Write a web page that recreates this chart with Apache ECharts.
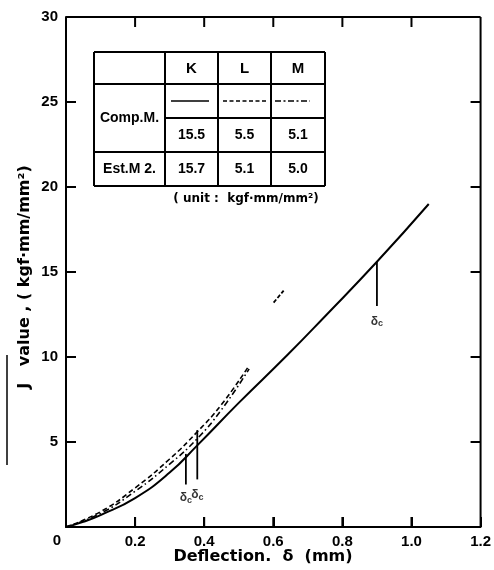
<!DOCTYPE html>
<html><head><meta charset="utf-8">
<script src="https://cdn.jsdelivr.net/npm/echarts@6/dist/echarts.min.js"></script>
<style>html,body{margin:0;padding:0;background:#fff}#c{width:494px;height:570px}</style>
</head><body><div id="c"></div>
<script>
// ---- data ----
var xTicks = [0, 0.2, 0.4, 0.6, 0.8, 1.0, 1.2];
var yTicks = [0, 5, 10, 15, 20, 25, 30];
var curveK = [[0,0],[0.05,0.3],[0.1,0.7],[0.2,1.7],[0.3,3.2],[0.38,4.8],[0.5,7.3],[0.64,10.1],[0.75,12.4],[0.9,15.6],[1.05,19.0]];
var curveL = [[0,0],[0.1,0.9],[0.2,2.3],[0.3,4.0],[0.38,5.6],[0.45,7.2],[0.53,9.5]];
var curveM = [[0,0],[0.1,0.8],[0.2,2.1],[0.3,3.7],[0.38,5.2],[0.45,6.9],[0.53,9.3]];
var fragment = [[0.601,13.2],[0.63,13.9]];
var markerX = [0.9, 0.38, 0.347];
var markerTop = [15.6, 5.7, 4.3];
var markerBottom = [13.0, 2.8, 2.5];
var markerLabelY = [12.1, 1.9, 1.7];
var tableCols = ['K', 'L', 'M'];
var rowLabels = ['Comp.M.', 'Est.M 2.'];
var compValues = ['15.5', '5.5', '5.1'];
var estValues = ['15.7', '5.1', '5.0'];
var unitText = '( unit :  kgf·mm/mm²)';
var xTitle = 'Deflection.  δ  (mm)';
var yTitle = 'J   value , ( kgf·mm/mm²)';
var originLabel = '0';

var FONT = 'Liberation Sans';
var WFONT = 'DejaVu Sans';
var X_MAX = 1.2, Y_MAX = 30;
var GRID = {left:66, right:9, top:17, bottom:43};
var chart = echarts.init(document.getElementById('c'));

function lineSeries(data, width, type, smooth){
  return {type:'line', data:data, smooth:!!smooth, symbol:'none', clip:false,
    lineStyle:{color:'#000', width:width, type:type || 'solid'}};
}
var series = [
  lineSeries(curveK, 2, 'solid', true),
  lineSeries(curveL, 1.6, [5,3], true),
  lineSeries(curveM, 1.6, [6,3,1.5,3], true),
  lineSeries(fragment, 1.8, [4,2], false)
];
for (var i = 0; i < markerX.length; i++) {
  series.push(lineSeries([[markerX[i], markerTop[i]], [markerX[i], markerBottom[i]]], 1.8));
}
series.push({
  type:'scatter', symbolSize:0,
  data: markerX.map(function(x, i){ return [x, markerLabelY[i]]; }),
  label:{show:true, position:'inside', formatter:'{d|δ}{s|c}',
    rich:{d:{fontFamily:FONT, fontSize:12, fontWeight:'bold', color:'#000'},
          s:{fontFamily:FONT, fontSize:9, fontWeight:'bold', color:'#000', padding:[5,0,0,0]}}}
});

// ---- table and texts (graphic) ----
var colEdges = [94, 165, 218, 271, 325];
var rowEdges = [52, 84, 118, 152, 186];
var g = [];
function seg(x1, y1, x2, y2, w){ g.push({type:'line', shape:{x1:x1,y1:y1,x2:x2,y2:y2}, style:{stroke:'#000', lineWidth:w || 2}}); }
function txt(t, x, y, fs, fam){ g.push({type:'text', x:x, y:y, style:{text:t, fill:'#000', font:'bold '+(fs||13)+'px "'+(fam||FONT)+'"', align:'center', verticalAlign:'middle'}}); }
seg(colEdges[0], rowEdges[0], colEdges[4], rowEdges[0]);
seg(colEdges[0], rowEdges[1], colEdges[4], rowEdges[1]);
seg(colEdges[1], rowEdges[2], colEdges[4], rowEdges[2]);
seg(colEdges[0], rowEdges[3], colEdges[4], rowEdges[3]);
seg(colEdges[0], rowEdges[4], colEdges[4], rowEdges[4]);
for (var c = 0; c < colEdges.length; c++) seg(colEdges[c], rowEdges[0], colEdges[c], rowEdges[4]);
for (var c = 0; c < 3; c++) {
  var cx = (colEdges[c+1] + colEdges[c+2]) / 2;
  txt(tableCols[c], cx, (rowEdges[0]+rowEdges[1])/2 + 1, 15);
  txt(compValues[c], cx, (rowEdges[2]+rowEdges[3])/2, 14);
  txt(estValues[c], cx, (rowEdges[3]+rowEdges[4])/2, 14);
}
txt(rowLabels[0], (colEdges[0]+colEdges[1])/2, rowEdges[2], 14);
txt(rowLabels[1], (colEdges[0]+colEdges[1])/2, (rowEdges[3]+rowEdges[4])/2, 14);
var sampleY = 101;
var dashes = [[1,0], [4,2.5], [6,2.5,2,2.5]];
var sampleX = [[171,209],[223,268],[275,310]];
for (var c = 0; c < 3; c++) {
  g.push({type:'line', shape:{x1:sampleX[c][0], y1:sampleY, x2:sampleX[c][1], y2:sampleY},
    style:{stroke:'#000', lineWidth:1.5, lineDash:dashes[c]}});
}
txt(unitText, 246, 199, 12, WFONT);
txt(xTitle, 263, 557, 16, WFONT);
txt(originLabel, 57, 541, 15);
g.push({type:'text', x:25, y:277, rotation:Math.PI/2, style:{text:yTitle, fill:'#000', font:'bold 16px "'+WFONT+'"', align:'center', verticalAlign:'middle'}});
// scan mark on left
seg(7, 355, 7, 465, 1.5);

var labelStyle = {fontFamily:FONT, fontSize:15, fontWeight:'bold', color:'#000'};
chart.setOption({
  animation:false,
  grid:GRID,
  xAxis:{
    type:'value', min:0, max:X_MAX, interval:0.2,
    axisLine:{show:true, lineStyle:{color:'#000', width:2}},
    axisTick:{show:true, inside:true, length:10, lineStyle:{color:'#000', width:2}},
    splitLine:{show:false},
    axisLabel:{margin:7, showMinLabel:false, fontFamily:FONT, fontSize:15, fontWeight:'bold', color:'#000',
      formatter:function(v){ return v.toFixed(1); }}
  },
  yAxis:{
    type:'value', min:0, max:Y_MAX, interval:5,
    axisLine:{show:true, lineStyle:{color:'#000', width:2}},
    axisTick:{show:true, inside:true, length:10, lineStyle:{color:'#000', width:2}},
    splitLine:{show:false},
    axisLabel:{margin:8, showMinLabel:false, fontFamily:FONT, fontSize:15, fontWeight:'bold', color:'#000'}
  },
  series:series,
  graphic:g
});

// box frame and inward ticks on all four sides, positioned through the axes' scales
try {
  var TICK = 10;
  function px(v){ return chart.convertToPixel({gridIndex:0}, v); }
  var p00 = px([0, 0]), p11 = px([X_MAX, Y_MAX]);
  seg(p00[0], p11[1], p11[0], p11[1]);
  seg(p11[0], p11[1], p11[0], p00[1]);
  seg(p00[0], p11[1], p00[0], p00[1]);
  seg(p00[0], p00[1], p11[0], p00[1]);
  xTicks.forEach(function(v){
    if (v <= 0 || v >= X_MAX) return;
    var x = px([v, 0])[0];
    seg(x, p00[1], x, p00[1] - TICK);
    seg(x, p11[1], x, p11[1] + TICK);
  });
  yTicks.forEach(function(v){
    if (v <= 0 || v >= Y_MAX) return;
    var y = px([0, v])[1];
    seg(p00[0], y, p00[0] + TICK, y);
    seg(p11[0], y, p11[0] - TICK, y);
  });
  chart.setOption({graphic:g});
} catch (e) {}
</script></body></html>
